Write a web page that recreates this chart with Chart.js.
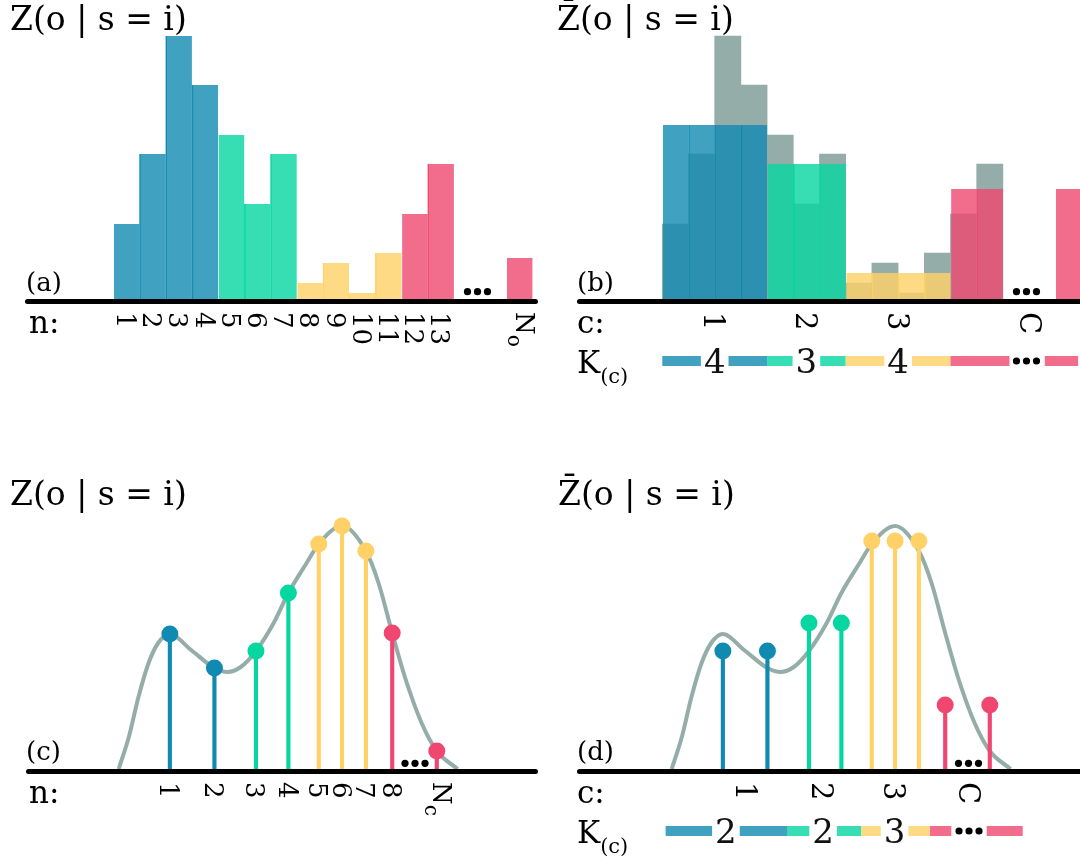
<!DOCTYPE html>
<html>
<head>
<meta charset="utf-8">
<script src="https://cdn.jsdelivr.net/npm/chart.js@4.4.1/dist/chart.umd.min.js"></script>
<style>
  html, body { margin: 0; padding: 0; background: #fff; }
  body { width: 1080px; height: 861px; overflow: hidden; position: relative; }
  canvas { position: absolute; }
</style>
</head>
<body>
<canvas id="pa" width="540" height="430" style="left:0px;top:0px"></canvas>
<canvas id="pb" width="540" height="430" style="left:549px;top:0px"></canvas>
<canvas id="pc" width="540" height="431" style="left:0px;top:430px"></canvas>
<canvas id="pd" width="540" height="431" style="left:553px;top:430px"></canvas>
<script>
// ---- (a) histogram over observation bins n ----
const nPos    = [1, 2, 3, 4, 5, 6, 7, 8, 9, 10, 11, 12, 13, 16];
const nLabels = ['1','2','3','4','5','6','7','8','9','10','11','12','13','N_o'];
const zA      = [75, 145, 263, 214, 164, 95, 145, 16, 36, 6, 46, 85, 135, 41];
const clusterA = [0, 0, 0, 0, 1, 1, 1, 2, 2, 2, 2, 3, 3, 3];

// ---- (b) cluster-averaged histogram ----
const zMeanB  = [174, 174, 174, 174, 135, 135, 135, 26, 26, 26, 26, 110, 110, 110];
const cPosB   = [2.5, 6, 9.5, 14.55];
const cLabels = ['1', '2', '3', 'C'];
const kSizesB = ['4', '3', '4'];
const kSizePosB = [2.5, 6, 9.5];
const kSegStartB = [0.5, 4.5, 7.5, 11.5, 15.1];
const kSegEndB   = [4.5, 7.5, 11.5, 13.75, 16.37];
const kSegClusterB = [0, 1, 2, 3, 3];

// ---- (c) point masses on the continuous axis ----
const oPos     = [28.6, 37.4, 45.6, 52.0, 58.0, 62.6, 67.3, 72.5, 81.3];
const oLabels  = ['1','2','3','4','5','6','7','8','N_c'];
const zC       = [135, 101, 118, 176, 225, 243, 218, 136, 18];
const clusterC = [0, 0, 1, 1, 2, 2, 2, 3, 3];
const curveX   = [18.5, 20.5, 22.4, 24.4, 26.3, 28.6, 32.8, 37.4, 40.0, 42.6, 45.6, 49.1,
                  52.0, 55.6, 58.0, 62.6, 67.3, 69.8, 72.5, 75.0, 78.3, 81.3, 85.4];
const curveY   = [0, 32, 72, 106, 126, 135, 119, 101, 97, 102, 118, 146,
                  176, 206, 225, 243, 218, 186, 136, 92, 46, 18, 0];

// ---- (d) cluster-averaged point masses ----
const zD       = [118, 118, 146, 146, 228, 228, 228, 64, 64];
const cPosD    = [33.2, 48.2, 62.5, 77.4];
const kSizesD  = ['2', '2', '3'];
const kSizePosD = [29.2, 48.4, 62.5];
const kSegStartD = [17.3, 41.4, 55.9, 69.5, 80.7];
const kSegEndD   = [41.4, 55.9, 69.5, 73.7, 87.8];
const kSegClusterD = [0, 1, 2, 3, 3];

const PALETTE = ['#118AB2', '#06D6A0', '#FFD166', '#EF476F'];
const GREY = '#95ADA8';
const SERIF = '"DejaVu Serif", "Liberation Serif", serif';

function rgba(hex, a) {
  const v = parseInt(hex.slice(1), 16);
  return `rgba(${(v >> 16) & 255},${(v >> 8) & 255},${v & 255},${a})`;
}
function font(sz) { return sz + 'px ' + SERIF; }

// text with an optional subscript written as "main_sub"
function drawSubText(ctx, text, x, y, size, subSize, subDrop) {
  const parts = text.split('_');
  ctx.font = font(size);
  ctx.textAlign = 'left';
  ctx.textBaseline = 'alphabetic';
  ctx.fillText(parts[0], x, y);
  if (parts[1]) {
    const w = ctx.measureText(parts[0]).width;
    ctx.font = font(subSize);
    ctx.fillText(parts[1], x + w, y + subDrop);
  }
}

// tick label rotated a quarter turn clockwise, reading downwards
function drawRotLabel(ctx, text, x, yTop, size) {
  const parts = text.split('_');
  const cap = size * 0.73;
  ctx.save();
  ctx.translate(x, yTop);
  ctx.rotate(Math.PI / 2);
  const shift = parts[1] ? -6 : 0;
  drawSubText(ctx, text, 0, cap / 2 + shift, size, size * 0.78, size * 0.3);
  ctx.restore();
}

function drawEllipsis(ctx, cx, cy) {
  ctx.fillStyle = '#000';
  for (const dx of [-10, 0, 10]) {
    ctx.beginPath();
    ctx.arc(cx + dx, cy, 3.6, 0, Math.PI * 2);
    ctx.fill();
  }
}

function decorPlugin(cfg) {
  return {
    id: 'decor',
    afterDraw(chart) {
      const ctx = chart.ctx;
      const xs = chart.scales.x, ys = chart.scales.y;
      const px = v => xs.getPixelForValue(v);
      const base = ys.getPixelForValue(0);
      ctx.save();

      // baseline axis
      ctx.strokeStyle = '#000';
      ctx.lineWidth = 5;
      ctx.lineCap = 'round';
      ctx.beginPath();
      ctx.moveTo(cfg.axisFrom, base + 2.5);
      ctx.lineTo(cfg.axisTo, base + 2.5);
      ctx.stroke();

      // ellipsis on the axis
      drawEllipsis(ctx, px(cfg.dotsX), base - cfg.dotsH);

      ctx.fillStyle = '#000';
      // panel title
      ctx.font = font(33);
      ctx.textAlign = 'left';
      ctx.textBaseline = 'alphabetic';
      ctx.fillText(cfg.title, cfg.titleX, cfg.titleY);
      // panel tag
      ctx.font = font(26);
      ctx.fillText(cfg.tag, cfg.tagX, cfg.tagY);
      // axis name
      ctx.font = font(31);
      ctx.fillText(cfg.axisName, cfg.nameX, cfg.nameY);

      // tick labels
      cfg.tickPos.forEach((v, i) => {
        ctx.fillStyle = '#000';
        drawRotLabel(ctx, cfg.tickLabels[i], px(v), cfg.tickTop, cfg.tickSize);
      });

      // cluster size row
      if (cfg.kRow) {
        const k = cfg.kRow;
        ctx.fillStyle = '#000';
        drawSubText(ctx, 'K_(c)', cfg.nameX, k.labelY, 31, 21, 10);
        k.segStart.forEach((s, i) => {
          ctx.fillStyle = rgba(PALETTE[k.segCluster[i]], 0.8);
          ctx.fillRect(px(s), k.y - 5, px(k.segEnd[i]) - px(s), 10);
        });
        ctx.font = font(34);
        k.sizes.forEach((t, i) => {
          const w = ctx.measureText(t).width;
          const cx = px(k.sizePos[i]);
          ctx.fillStyle = '#fff';
          ctx.fillRect(cx - w / 2 - 3, k.y - 6, w + 6, 12);
          ctx.fillStyle = '#111';
          ctx.textAlign = 'center';
          ctx.fillText(t, cx, k.y + 34 * 0.73 / 2);
        });
        drawEllipsis(ctx, px(k.dotsX), k.y);
      }
      ctx.restore();
    }
  };
}

function sepBorders(cluster, pos) {
  return cluster.map((c, i) => (i > 0 && cluster[i - 1] === c && pos[i] - pos[i - 1] === 1)
    ? rgba(PALETTE[c], 0.96) : 'rgba(0,0,0,0)');
}

const barBase = {
  type: 'bar',
  barPercentage: 1,
  categoryPercentage: 1,
  grouped: false,
  borderWidth: { left: 1, right: 0, top: 0, bottom: 0 },
  borderSkipped: false
};

function commonOptions(padding, xMin, xMax, extraX) {
  return {
    responsive: false,
    maintainAspectRatio: false,
    animation: false,
    events: [],
    layout: { padding },
    plugins: { legend: { display: false }, tooltip: { enabled: false } },
    scales: {
      x: Object.assign({ type: 'linear', display: false, offset: false, min: xMin, max: xMax }, extraX || {}),
      y: { type: 'linear', display: false, min: 0, max: 269 }
    }
  };
}

const topPad = { left: 25, right: 2, top: 30, bottom: 131 };
const botPad = { left: 25, right: 2, top: 70, bottom: 92 };
const binTicks = { ticks: { stepSize: 1, includeBounds: false } };

// (a)
new Chart(document.getElementById('pa'), {
  type: 'bar',
  data: {
    datasets: [Object.assign({}, barBase, {
      data: nPos.map((x, i) => ({ x, y: zA[i] })),
      backgroundColor: clusterA.map(c => rgba(PALETTE[c], 0.8)),
      borderColor: sepBorders(clusterA, nPos)
    })]
  },
  options: commonOptions(topPad, -2.87, 16.71, binTicks),
  plugins: [decorPlugin({
    axisFrom: 27.5, axisTo: 535.5, dotsX: 14.4, dotsH: 7.3,
    title: 'Z(o | s = i)', titleX: 10, titleY: 30,
    tag: '(a)', tagX: 26, tagY: 291,
    axisName: 'n:', nameX: 29, nameY: 333,
    tickPos: nPos, tickLabels: nLabels, tickTop: 312, tickSize: 26
  })]
});

// (b)
new Chart(document.getElementById('pb'), {
  type: 'bar',
  data: {
    datasets: [
      Object.assign({}, barBase, {
        data: nPos.map((x, i) => ({ x, y: zMeanB[i] })),
        backgroundColor: clusterA.map(c => rgba(PALETTE[c], 0.8)),
        borderColor: sepBorders(clusterA, nPos)
      }),
      Object.assign({}, barBase, {
        data: nPos.filter(x => x <= 13).map((x, i) => ({ x, y: zA[i] })),
        backgroundColor: GREY,
        borderWidth: 0
      })
    ]
  },
  options: commonOptions(topPad, -2.87, 16.71, binTicks),
  plugins: [decorPlugin({
    axisFrom: 30.5, axisTo: 560, dotsX: 14.4, dotsH: 7.3,
    title: 'Z\u0304(o | s = i)', titleX: 8, titleY: 30,
    tag: '(b)', tagX: 28, tagY: 291,
    axisName: 'c:', nameX: 28, nameY: 333,
    tickPos: cPosB, tickLabels: cLabels, tickTop: 312, tickSize: 29,
    kRow: { y: 361, labelY: 373, segStart: kSegStartB, segEnd: kSegEndB, segCluster: kSegClusterB,
            sizes: kSizesB, sizePos: kSizePosB, dotsX: 14.4 }
  })]
});

function stemDatasets(values) {
  return [
    {
      type: 'line',
      data: oPos.map((x, i) => ({ x, y: values[i] })),
      showLine: false,
      pointRadius: 8.5,
      pointBorderWidth: 0,
      pointBackgroundColor: clusterC.map(c => PALETTE[c]),
      clip: false
    },
    {
      type: 'bar',
      data: oPos.map((x, i) => ({ x, y: values[i] })),
      barThickness: 3.5,
      backgroundColor: clusterC.map(c => PALETTE[c]),
      borderWidth: 0,
      grouped: false
    },
    {
      type: 'line',
      data: curveX.map((x, i) => ({ x, y: curveY[i] })),
      borderColor: GREY,
      borderWidth: 4,
      pointRadius: 0,
      cubicInterpolationMode: 'monotone',
      clip: false
    }
  ];
}

// (c)
new Chart(document.getElementById('pc'), {
  type: 'bar',
  data: { datasets: stemDatasets(zC) },
  options: commonOptions(botPad, 0, 100),
  plugins: [decorPlugin({
    axisFrom: 28.5, axisTo: 535.5, dotsX: 77.0, dotsH: 5.7,
    title: 'Z(o | s = i)', titleX: 10, titleY: 75,
    tag: '(c)', tagX: 26, tagY: 330,
    axisName: 'n:', nameX: 29, nameY: 373,
    tickPos: oPos, tickLabels: oLabels, tickTop: 352, tickSize: 26
  })]
});

// (d)
new Chart(document.getElementById('pd'), {
  type: 'bar',
  data: { datasets: stemDatasets(zD) },
  options: commonOptions(botPad, 0, 100),
  plugins: [decorPlugin({
    axisFrom: 26.5, axisTo: 560, dotsX: 77.1, dotsH: 5.7,
    title: 'Z\u0304(o | s = i)', titleX: 5, titleY: 75,
    tag: '(d)', tagX: 24, tagY: 330,
    axisName: 'c:', nameX: 24, nameY: 373,
    tickPos: cPosD, tickLabels: cLabels, tickTop: 352, tickSize: 29,
    kRow: { y: 401, labelY: 413, segStart: kSegStartD, segEnd: kSegEndD, segCluster: kSegClusterD,
            sizes: kSizesD, sizePos: kSizePosD, dotsX: 77.2 }
  })]
});
</script>
</body>
</html>
